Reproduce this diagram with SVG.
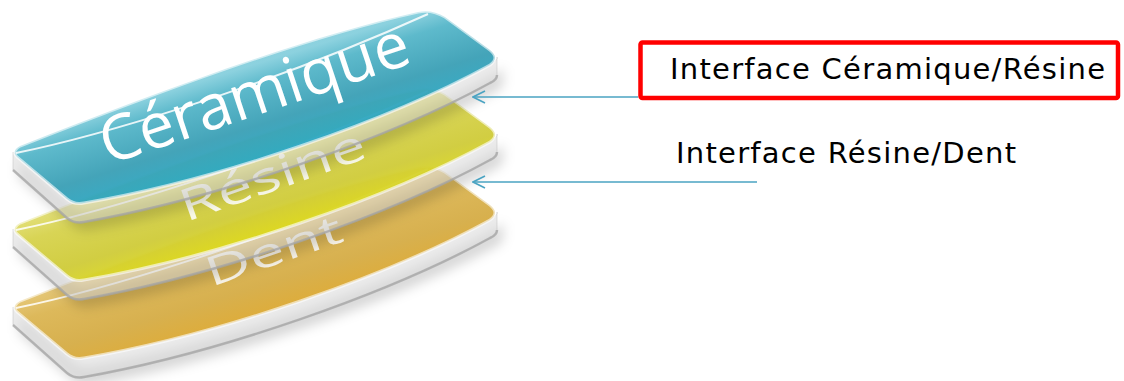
<svg xmlns="http://www.w3.org/2000/svg" xmlns:xlink="http://www.w3.org/1999/xlink" width="1124" height="381" viewBox="0 0 1124 381">
<style>
.side{fill:#dcdcdc;fill-opacity:0.55;stroke:#b5b5b5;stroke-opacity:0.5;stroke-width:0.8}
.sidebot{fill:none;stroke:#a4a4a4;stroke-opacity:0.75;stroke-width:2.5}
.face{fill-opacity:0.95;stroke:#ffffff;stroke-opacity:0.6;stroke-width:3}
.hl{fill:none;stroke:#ffffff;stroke-opacity:0.85;stroke-width:2}
.shadow{fill:#000;fill-opacity:0.16;filter:url(#blur)}
.plate-text{font-family:"Open Sans","DejaVu Sans",sans-serif;fill:#ffffff;font-size:63px}
.label{font-family:"DejaVu Sans","Liberation Sans",sans-serif;font-size:29px;fill:#000}
.conn{fill:none;stroke:#4aa3c2;stroke-width:1.6}
</style>
<defs>
<filter id="blur" x="-10%" y="-30%" width="120%" height="160%"><feGaussianBlur stdDeviation="6"/></filter>
<linearGradient id="gCer" gradientUnits="userSpaceOnUse" x1="230" y1="72" x2="262" y2="175">
<stop offset="0" stop-color="#86cfdd"/><stop offset="0.18" stop-color="#55b6c9"/><stop offset="0.55" stop-color="#3a9fb5"/><stop offset="0.85" stop-color="#2aa8c4"/><stop offset="1" stop-color="#4fbcd2"/>
</linearGradient>
<linearGradient id="gRes" gradientUnits="userSpaceOnUse" x1="230" y1="72" x2="262" y2="175">
<stop offset="0" stop-color="#e4e07a"/><stop offset="0.25" stop-color="#d6d24c"/><stop offset="0.6" stop-color="#cfcb38"/><stop offset="0.88" stop-color="#dedb1c"/><stop offset="1" stop-color="#e6e33e"/>
</linearGradient>
<linearGradient id="gDen" gradientUnits="userSpaceOnUse" x1="230" y1="72" x2="262" y2="175">
<stop offset="0" stop-color="#e6c878"/><stop offset="0.25" stop-color="#dbb552"/><stop offset="0.6" stop-color="#d5ac45"/><stop offset="0.88" stop-color="#dca830"/><stop offset="1" stop-color="#e4b846"/>
</linearGradient>
<path id="top" d="M 20,146 C 150,95 300,38 418,12 Q 432,9 445,17 L 490,50 Q 500,58 490,65 C 390,120 220,180 84,203 Q 74,205 67,199 L 17,157 Q 11,151 20,146 Z"/>
<path id="side" d="M 13,152 L 67,199 Q 74,205 84,203 C 220,180 390,120 490,65 Q 498,60 497,57 L 497,75 Q 497,80 490,83 C 390,138 220,198 84,222 Q 74,224 67,218 L 13,170 Z"/>
<path id="sidebot" d="M 13,170 L 67,218 Q 74,224 84,222 C 220,198 390,138 490,83 Q 497,80 497,75"/>
<path id="hl" d="M 16,153 C 90,138 260,90 428,14"/>
<marker id="arrow" viewBox="0 0 14 14" refX="13" refY="7" markerWidth="14" markerHeight="14" markerUnits="userSpaceOnUse" orient="auto">
<path d="M 1,1 L 13,7 L 1,13" fill="none" stroke="#4aa3c2" stroke-width="1.6"/>
</marker>
</defs>
<rect width="1124" height="381" fill="#ffffff"/>

<g id="plate-dent" transform="translate(0,155)">
<use xlink:href="#side" class="shadow" transform="translate(6,8)"/>
<use xlink:href="#side" class="side"/>
<use xlink:href="#sidebot" class="sidebot"/>
<use xlink:href="#top" class="face" fill="url(#gDen)"/>
<use xlink:href="#hl" class="hl"/>
</g>
<text class="plate-text" transform="translate(211,287) rotate(-19) scale(1,0.64)" fill-opacity="0.88">Dent</text>

<g id="plate-resine" transform="translate(0,77)">
<use xlink:href="#side" class="shadow" transform="translate(6,8)"/>
<use xlink:href="#side" class="side"/>
<use xlink:href="#sidebot" class="sidebot"/>
<use xlink:href="#top" class="face" fill="url(#gRes)"/>
<use xlink:href="#hl" class="hl"/>
</g>
<text class="plate-text" transform="translate(186,222) rotate(-19.5) scale(1,0.7)" fill-opacity="0.88">Résine</text>

<g id="plate-ceramique">
<use xlink:href="#side" class="shadow" transform="translate(6,8)"/>
<use xlink:href="#side" class="side"/>
<use xlink:href="#sidebot" class="sidebot"/>
<use xlink:href="#top" class="face" fill="url(#gCer)"/>
<use xlink:href="#hl" class="hl"/>
<text class="plate-text" font-size="64" transform="translate(108,165) rotate(-18.5)">Céramique</text>
</g>

<g id="connectors">
<line class="conn" x1="638" y1="97" x2="473" y2="97" marker-end="url(#arrow)"/>
<line class="conn" x1="757" y1="182" x2="473" y2="182" marker-end="url(#arrow)"/>
</g>

<g id="label-ceramique-resine">
<rect x="640.5" y="42.5" width="477.5" height="55.5" rx="2" fill="none" stroke="#ff0000" stroke-width="4.5"/>
<text class="label" x="670" y="79" textLength="435" lengthAdjust="spacing">Interface Céramique/Résine</text>
</g>
<g id="label-resine-dent">
<text class="label" x="676" y="163" textLength="340" lengthAdjust="spacing">Interface Résine/Dent</text>
</g>
</svg>
